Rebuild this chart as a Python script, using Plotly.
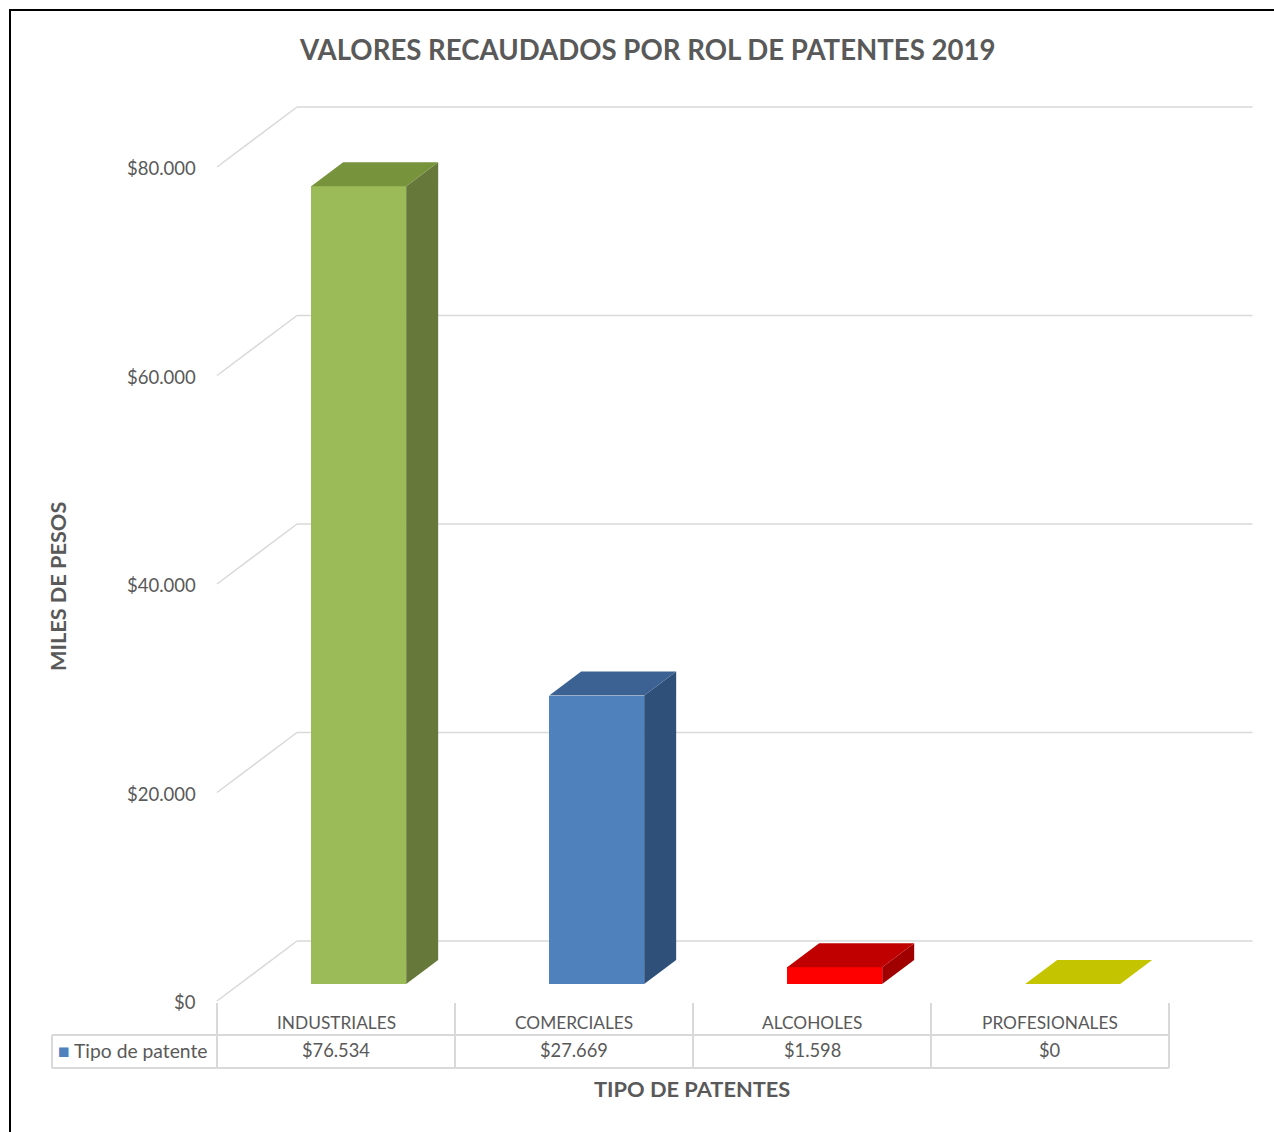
import plotly.graph_objects as go

# ---------------- data ----------------
categories = ["INDUSTRIALES", "COMERCIALES", "ALCOHOLES", "PROFESIONALES"]
values = [76534, 27669, 1598, 0]
series_name = "Tipo de patente"
tick_values = [0, 20000, 40000, 60000, 80000]
tick_labels = ["$0", "$20.000", "$40.000", "$60.000", "$80.000"]
value_labels = ["$" + f"{v:,}".replace(",", ".") for v in values]

front_colors = ["#9BBB59", "#4F81BD", "#FF0000", "#C4C400"]
top_colors = ["#77933C", "#3C6293", "#C00000", "#C4C400"]
side_colors = ["#66793A", "#2F5079", "#A00000", "#A3A300"]

title = "VALORES RECAUDADOS POR ROL DE PATENTES 2019"
y_title = "MILES DE PESOS"
x_title = "TIPO DE PATENTES"

# ---------------- layout geometry ----------------
W, H = 1274, 1132
FONT = "Lato"
TXT = "#595959"
GRID = "#D9D9D9"

CAT_PX = 238.0            # pixels per category
X0_PX = 336.0             # pixel of category 0 centre (front plane)
Y0_PX = 1001.0            # pixel of value 0 (front plane)
VAL_PX = 834.0 / 80000.0  # pixels per value unit

DX = 80.0 / CAT_PX        # full depth, x units
DY = 60.0 / VAL_PX        # full depth, value units
D1, D2 = 17.0 / 60.0, 41.0 / 60.0   # bar front/back depth fractions
BW = 95.0 / CAT_PX        # bar width

x_range = [-X0_PX / CAT_PX, (W - X0_PX) / CAT_PX]
y_range = [-(H - Y0_PX) / VAL_PX, Y0_PX / VAL_PX]

def py(px):
    return 1 - px / H

fig = go.Figure()

# front faces as bars
fig.add_trace(go.Bar(
    x=[i + D1 * DX for i in range(len(categories))],
    y=values,
    base=[D1 * DY] * len(values),
    width=BW,
    marker=dict(color=front_colors, line=dict(width=0)),
    name=series_name,
    showlegend=False,
    hoverinfo="skip",
))

# top and side faces
for i, v in enumerate(values):
    xl = i + D1 * DX - BW / 2
    xr = xl + BW
    yb = D1 * DY
    yt = yb + v
    ox = (D2 - D1) * DX
    oy = (D2 - D1) * DY
    if v > 0:
        fig.add_trace(go.Scatter(
            x=[xr, xr, xr + ox, xr + ox, xr], y=[yb, yt, yt + oy, yb + oy, yb],
            fill="toself", fillcolor=side_colors[i], mode="lines",
            line=dict(width=0, color=side_colors[i]), showlegend=False, hoverinfo="skip"))
    fig.add_trace(go.Scatter(
        x=[xl, xr, xr + ox, xl + ox, xl], y=[yt, yt, yt + oy, yt + oy, yt],
        fill="toself", fillcolor=top_colors[i], mode="lines",
        line=dict(width=0, color=top_colors[i]), showlegend=False, hoverinfo="skip"))

shapes = []
# back wall gridlines + side diagonals
x_front_l = -0.5
x_back_l = -0.5 + DX
x_back_r = len(categories) - 0.5 + DX + 0.015
for t in tick_values:
    shapes.append(dict(type="line", xref="x", yref="y", x0=x_back_l, x1=x_back_r,
                       y0=t + DY, y1=t + DY, line=dict(color=GRID, width=1.5), layer="below"))
    shapes.append(dict(type="line", xref="x", yref="y", x0=x_front_l, x1=x_back_l,
                       y0=t, y1=t + DY, line=dict(color=GRID, width=1.5), layer="below"))

# data table
TBL_TOP, TBL_MID, TBL_BOT = 1003, 1035, 1068
LEG_W = 165.0 / CAT_PX
for k in range(len(categories) + 1):
    shapes.append(dict(type="line", xref="x", yref="paper", x0=k - 0.5, x1=k - 0.5,
                       y0=py(TBL_TOP), y1=py(TBL_BOT), line=dict(color=GRID, width=2)))
for yy in (TBL_MID, TBL_BOT):
    shapes.append(dict(type="line", xref="x", yref="paper", x0=-0.5 - LEG_W,
                       x1=len(categories) - 0.5, y0=py(yy), y1=py(yy),
                       line=dict(color=GRID, width=2)))
shapes.append(dict(type="line", xref="x", yref="paper", x0=-0.5 - LEG_W, x1=-0.5 - LEG_W,
                   y0=py(TBL_MID), y1=py(TBL_BOT), line=dict(color=GRID, width=2)))

# outer frame
shapes.append(dict(type="rect", xref="paper", yref="paper", x0=10 / W, x1=1.05,
                   y0=-0.05, y1=py(10), line=dict(color="#000000", width=2)))

annotations = []
for t, lab in zip(tick_values, tick_labels):
    annotations.append(dict(x=-0.5, y=t, xref="x", yref="y", text=lab, showarrow=False,
                            xanchor="right", yanchor="middle", xshift=-19, yshift=-1,
                            font=dict(family=FONT, size=18.5, color=TXT)))
for i, (c, vl) in enumerate(zip(categories, value_labels)):
    annotations.append(dict(x=i, y=py(1022), xref="x", yref="paper", text=c, showarrow=False,
                            xanchor="center", yanchor="middle",
                            font=dict(family=FONT, size=17.3, color=TXT)))
    annotations.append(dict(x=i, y=py(1050), xref="x", yref="paper", text=vl, showarrow=False,
                            xanchor="center", yanchor="middle",
                            font=dict(family=FONT, size=18.3, color=TXT)))
annotations.append(dict(x=-0.5 - LEG_W, y=py(1050), xref="x", yref="paper",
                        text="<span style='color:%s'>■</span> %s" % (front_colors[1], series_name),
                        showarrow=False, xanchor="left", yanchor="middle", xshift=4,
                        font=dict(family=FONT, size=19.3, color=TXT)))
annotations.append(dict(x=647 / W, y=py(50), xref="paper", yref="paper", text="<b>%s</b>" % title,
                        showarrow=False, xanchor="center", yanchor="middle",
                        font=dict(family=FONT, size=27.6, color=TXT)))
annotations.append(dict(x=58 / W, y=py(587), xref="paper", yref="paper", text="<b>%s</b>" % y_title,
                        showarrow=False, xanchor="center", yanchor="middle", textangle=-90,
                        font=dict(family=FONT, size=21.7, color=TXT)))
annotations.append(dict(x=692 / W, y=py(1088), xref="paper", yref="paper", text="<b>%s</b>" % x_title,
                        showarrow=False, xanchor="center", yanchor="middle",
                        font=dict(family=FONT, size=21.8, color=TXT)))

fig.update_layout(
    width=W, height=H, autosize=False,
    margin=dict(l=0, r=0, t=0, b=0, pad=0),
    paper_bgcolor="white", plot_bgcolor="white",
    xaxis=dict(range=x_range, visible=False, fixedrange=True),
    yaxis=dict(range=y_range, visible=False, fixedrange=True),
    shapes=shapes, annotations=annotations,
    showlegend=False, bargap=0,
)

fig.write_html("out.html", config={"displayModeBar": False},
               post_script="document.body.style.margin='0px';document.body.style.overflow='hidden';")
